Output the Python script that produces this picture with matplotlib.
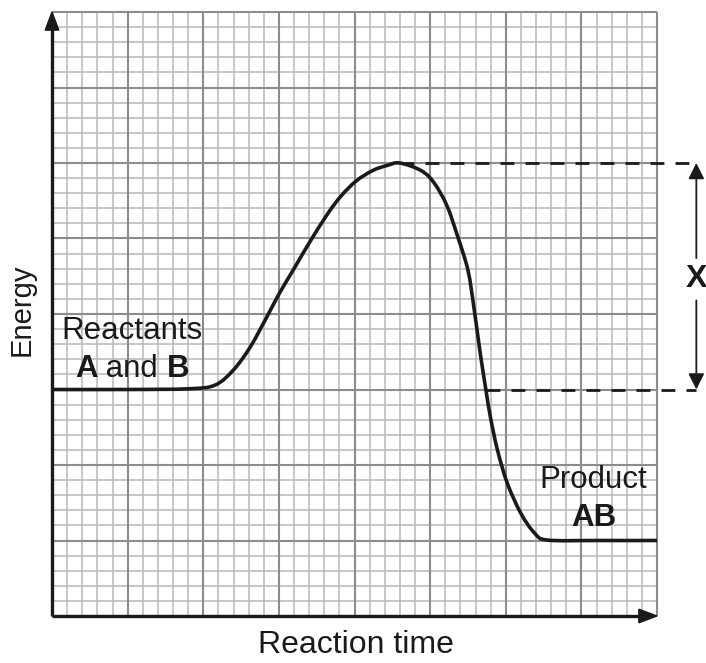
import matplotlib
matplotlib.use("Agg")
import matplotlib.pyplot as plt
from matplotlib.patches import Polygon, PathPatch
from matplotlib.path import Path

plt.rcParams['font.family'] = ['Liberation Sans', 'DejaVu Sans']

# Energy profile curve (x and y in minor grid units)
curve_x = [0, 5, 9.1, 10.8, 12.0, 13.1, 14.2, 15.05, 16.0, 17.0, 18.2, 19.1, 20.1, 21.2, 22.2, 23.0,
           24.4, 25.25, 26.1, 26.8, 27.5, 27.9, 28.3, 28.7, 29.0, 29.45, 30.1, 31.0, 31.9, 32.75, 36, 40]
curve_y = [15.0, 15.0, 15.05, 15.3, 16.3, 17.8, 19.8, 21.4, 23.0, 24.7, 26.6, 27.8, 28.8, 29.5, 29.85, 30.0,
           29.5, 28.7, 27.2, 25.2, 22.9, 20.4, 17.5, 14.9, 13.1, 11.0, 8.8, 6.8, 5.5, 5.03, 5.0, 5.0]

reactant_level = 15
peak_level = 30
peak_x = 23.0
reactant_cross_x = 28.7
x_label_pos = 42.6
x_text_level = 22.3

INK = '#1a1a1a'
FS = 22.5

fig = plt.figure(figsize=(7.06, 6.63), dpi=100)
ax = fig.add_axes([52/706, (663-616)/663, 605/706, 604/663])
ax.set_xlim(0, 40)
ax.set_ylim(0, 40)

# grid
for i in range(41):
    major = (i % 5 == 0)
    col = '#8c8c8c' if major else '#b8b8b8'
    lw = 1.5 if major else 1.1
    z = 1 if major else 0.5
    ax.plot([i, i], [0, 40], color=col, lw=lw, zorder=z, clip_on=False, solid_capstyle='butt')
    ax.plot([0, 40], [i, i], color=col, lw=lw, zorder=z, clip_on=False, solid_capstyle='butt')

for s in ax.spines.values():
    s.set_visible(False)
ax.set_xticks([])
ax.set_yticks([])

# axes with arrowheads
ax.plot([0, 0], [0, 38.9], color=INK, lw=2.4, zorder=5, clip_on=False, solid_capstyle='butt')
ax.plot([0, 38.9], [0, 0], color=INK, lw=2.4, zorder=5, clip_on=False, solid_capstyle='butt')
ax.add_patch(Polygon([[0, 40], [-0.45, 38.8], [0.45, 38.8]], closed=True, color=INK, zorder=6, clip_on=False))
ax.add_patch(Polygon([[40, 0], [38.8, -0.45], [38.8, 0.45]], closed=True, color=INK, zorder=6, clip_on=False))

# smooth curve through the read points (Catmull-Rom rendered as cubic Bezier segments)
pts = list(zip(curve_x, curve_y))
verts = [pts[0]]
codes = [Path.MOVETO]
n = len(pts)
for i in range(n - 1):
    p0 = pts[i - 1] if i > 0 else pts[i]
    p1 = pts[i]
    p2 = pts[i + 1]
    p3 = pts[i + 2] if i + 2 < n else pts[i + 1]
    c1 = (p1[0] + (p2[0] - p0[0]) / 6.0, p1[1] + (p2[1] - p0[1]) / 6.0)
    c2 = (p2[0] - (p3[0] - p1[0]) / 6.0, p2[1] - (p3[1] - p1[1]) / 6.0)
    verts += [c1, c2, p2]
    codes += [Path.CURVE4, Path.CURVE4, Path.CURVE4]
ax.add_patch(PathPatch(Path(verts, codes), facecolor='none', edgecolor=INK, lw=2.6,
                       zorder=7, clip_on=False, capstyle='butt'))

# dashed lines
ax.plot([peak_x, x_label_pos], [peak_level, peak_level], color=INK, lw=2.0,
        dashes=(5, 4), zorder=7, clip_on=False)
ax.plot([reactant_cross_x, x_label_pos], [reactant_level, reactant_level], color=INK, lw=2.0,
        dashes=(5, 4), zorder=7, clip_on=False)

# X double arrow
ax.annotate('', xy=(x_label_pos, peak_level), xytext=(x_label_pos, x_text_level + 1.4),
            arrowprops=dict(arrowstyle='-|>', color=INK, lw=1.3, mutation_scale=24,
                            shrinkA=0, shrinkB=0), annotation_clip=False)
ax.annotate('', xy=(x_label_pos, reactant_level), xytext=(x_label_pos, x_text_level - 1.4),
            arrowprops=dict(arrowstyle='-|>', color=INK, lw=1.3, mutation_scale=24,
                            shrinkA=0, shrinkB=0), annotation_clip=False)
ax.text(x_label_pos, x_text_level, 'X', ha='center', va='center', fontsize=23, fontweight='bold',
        color=INK, clip_on=False)

# labels on chart
ax.text(5.3, 18.85, 'Reactants', ha='center', va='center', fontsize=FS, color=INK, zorder=8)
t_and = ax.text(5.3, 16.35, ' and ', ha='center', va='center', fontsize=FS, color=INK, zorder=8)
ax.annotate('A', xy=(0, 0.5), xycoords=t_and, ha='right', va='center', fontsize=FS,
            fontweight='bold', color=INK, zorder=8)
ax.annotate('B', xy=(1, 0.5), xycoords=t_and, ha='left', va='center', fontsize=FS,
            fontweight='bold', color=INK, zorder=8)
ax.text(35.8, 9.0, 'Product', ha='center', va='center', fontsize=FS, color=INK, zorder=8)
ax.text(35.8, 6.5, 'AB', ha='center', va='center', fontsize=FS, fontweight='bold', color=INK, zorder=8)

fig.text(356/706, 1 - 645/663, 'Reaction time', ha='center', va='center', fontsize=23, color=INK)
fig.text(22/706, 1 - 310/663, 'Energy', ha='center', va='center', fontsize=21, rotation=90, color=INK)

fig.savefig('out.png', dpi=100)
